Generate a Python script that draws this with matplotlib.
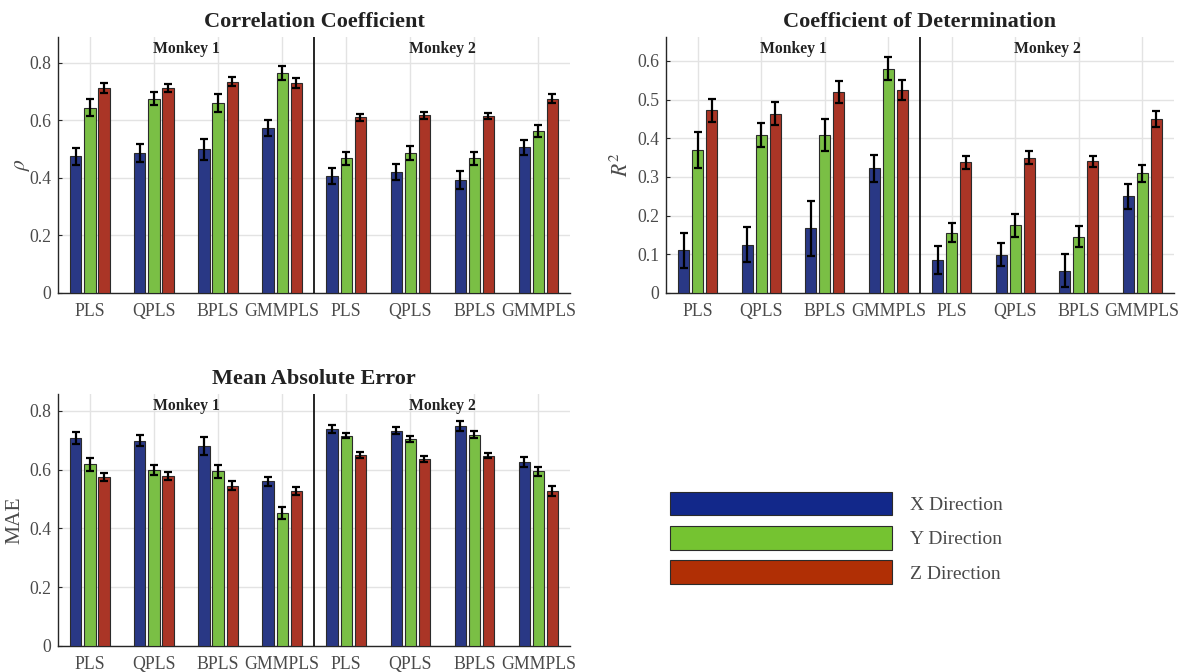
import matplotlib
matplotlib.use("Agg")
import matplotlib.pyplot as plt
import numpy as np
from matplotlib.patches import Patch
from matplotlib.transforms import blended_transform_factory

plt.rcParams["font.family"] = ["Liberation Serif", "DejaVu Serif"]
plt.rcParams["mathtext.fontset"] = "stix"

# ── Data ────────────────────────────────────────────────────────────────────
methods = ["PLS", "QPLS", "BPLS", "GMMPLS"]
monkeys = ["Monkey 1", "Monkey 2"]
directions = ["X Direction", "Y Direction", "Z Direction"]

# correlation coefficient, rows = X/Y/Z, 4 methods monkey 1 then 4 monkey 2
cc_mean = [
    [0.475, 0.486, 0.500, 0.574, 0.406, 0.420, 0.392, 0.506],
    [0.644, 0.676, 0.660, 0.765, 0.468, 0.487, 0.468, 0.562],
    [0.712, 0.712, 0.735, 0.729, 0.611, 0.618, 0.616, 0.676],
]
cc_err = [
    [0.030, 0.031, 0.037, 0.029, 0.028, 0.028, 0.031, 0.027],
    [0.030, 0.022, 0.031, 0.023, 0.022, 0.023, 0.023, 0.021],
    [0.017, 0.014, 0.016, 0.017, 0.012, 0.012, 0.010, 0.014],
]

r2_mean = [
    [0.110, 0.125, 0.167, 0.322, 0.086, 0.099, 0.058, 0.250],
    [0.369, 0.409, 0.409, 0.580, 0.156, 0.175, 0.145, 0.309],
    [0.472, 0.464, 0.520, 0.525, 0.338, 0.350, 0.340, 0.449],
]
r2_err = [
    [0.046, 0.046, 0.072, 0.036, 0.036, 0.029, 0.043, 0.032],
    [0.046, 0.031, 0.042, 0.030, 0.024, 0.030, 0.027, 0.022],
    [0.029, 0.029, 0.028, 0.025, 0.017, 0.016, 0.014, 0.021],
]

mae_mean = [
    [0.708, 0.698, 0.680, 0.560, 0.738, 0.733, 0.749, 0.626],
    [0.618, 0.598, 0.594, 0.453, 0.715, 0.704, 0.719, 0.594],
    [0.575, 0.577, 0.545, 0.528, 0.650, 0.636, 0.647, 0.526],
]
mae_err = [
    [0.021, 0.019, 0.031, 0.015, 0.015, 0.013, 0.018, 0.017],
    [0.023, 0.018, 0.023, 0.021, 0.009, 0.010, 0.012, 0.016],
    [0.015, 0.014, 0.015, 0.013, 0.010, 0.009, 0.008, 0.017],
]

# ── Style ───────────────────────────────────────────────────────────────────
BAR_COLORS = ["#293885", "#7abf45", "#aa3526"]
LEG_COLORS = ["#12288a", "#75c331", "#b02f05"]
EDGE = "#2b2b2b"
TICK_GRAY = "#4a4a4a"
TITLE_COL = "#222222"


def grouped_panel(ax, means, errs, title, ylabel, ylim, yticks, ylabelpad=3):
    labels = methods + methods
    x = np.arange(1, len(labels) + 1)
    width = 0.175
    offsets = [-0.22, 0.0, 0.22]
    for k in range(3):
        ax.bar(x + offsets[k], means[k], width=width, color=BAR_COLORS[k],
               edgecolor=EDGE, linewidth=0.8, zorder=3)
        ax.errorbar(x + offsets[k], means[k], yerr=errs[k], fmt="none",
                    ecolor="black", elinewidth=1.6, capsize=3, capthick=1.6,
                    zorder=4)
    ax.set_xlim(0.5, len(labels) + 0.5)
    ax.set_ylim(*ylim)
    ax.set_xticks(x)
    ax.set_xticklabels(labels, va="baseline")
    ax.set_yticks(yticks)
    ax.set_yticklabels([f"{t:g}" for t in yticks])
    ax.tick_params(direction="in", length=3, width=0.8, color="#262626",
                   labelsize=12.8, labelcolor=TICK_GRAY)
    ax.tick_params(axis="x", pad=16.5)
    ax.tick_params(axis="y", pad=5)
    ax.grid(True, color="#e3e3e3", linewidth=1.0, zorder=0)
    ax.set_axisbelow(True)
    for s in ["top", "right"]:
        ax.spines[s].set_visible(False)
    for s in ["left", "bottom"]:
        ax.spines[s].set_color("#262626")
        ax.spines[s].set_linewidth(1.0)
    ax.axvline(4.5, color="black", linewidth=1.2, zorder=5)
    tr = blended_transform_factory(ax.transData, ax.transAxes)
    for i, m in enumerate(monkeys):
        ax.text(2.5 + 4 * i, 0.985, m, transform=tr, ha="center", va="top",
                fontsize=11.3, fontweight="bold", color=TITLE_COL)
    ax.set_title(title, fontsize=16, fontweight="bold", color=TITLE_COL, pad=7)
    ax.set_ylabel(ylabel, fontsize=15.5, color=TICK_GRAY, labelpad=ylabelpad)


fig = plt.figure(figsize=(11.81, 6.72), dpi=100)
fig.patch.set_facecolor("white")

ax1 = fig.add_axes([0.049, 0.564, 0.434, 0.381])
ax2 = fig.add_axes([0.564, 0.564, 0.430, 0.381])
ax3 = fig.add_axes([0.049, 0.039, 0.434, 0.375])

grouped_panel(ax1, cc_mean, cc_err, "Correlation Coefficient", r"$\rho$",
              (0, 0.89), [0, 0.2, 0.4, 0.6, 0.8], ylabelpad=-2)
grouped_panel(ax2, r2_mean, r2_err, "Coefficient of Determination", r"$R^2$",
              (0, 0.662), [0, 0.1, 0.2, 0.3, 0.4, 0.5, 0.6])
grouped_panel(ax3, mae_mean, mae_err, "Mean Absolute Error", "MAE",
              (0, 0.858), [0, 0.2, 0.4, 0.6, 0.8])

handles = [Patch(facecolor=c, edgecolor=EDGE, linewidth=0.8) for c in LEG_COLORS]
leg = fig.legend(handles, directions, loc="upper left",
                 bbox_to_anchor=(0.561, 0.28), frameon=False,
                 fontsize=14, handlelength=11.4, handleheight=1.5,
                 labelspacing=0.55, handletextpad=0.93, borderaxespad=0)
for t in leg.get_texts():
    t.set_color(TICK_GRAY)

fig.savefig("out.png", dpi=100, facecolor=fig.get_facecolor())
